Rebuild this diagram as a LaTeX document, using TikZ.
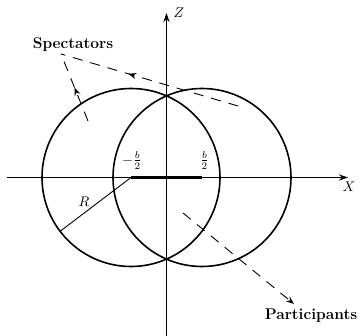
\documentclass[tikz,border=0pt]{standalone}
\usepackage{graphicx}
\usetikzlibrary{arrows.meta,decorations.markings}
\newcommand{\mlab}[1]{\scalebox{1.4}{$#1$}}
\begin{document}
\begin{tikzpicture}[x=1pt,y=-1pt,
  axis/.style={line width=1.3pt,-{Stealth[length=9pt,width=6pt]}},
  nucleus/.style={line width=1.6pt},
  flow/.style={line width=0.9pt,dash pattern=on 10pt off 8pt},
  midarrow/.style={postaction={decorate},decoration={markings,
     mark=at position #1 with {\arrow{Stealth[length=8pt,width=6pt]}}}},
  lbl/.style={font=\fontsize{15.5}{18}\selectfont\bfseries,inner sep=0pt},
  mlbl/.style={inner sep=0pt}]
\useasboundingbox (0,0) rectangle (360,336);
% centres
\coordinate (cl) at (131,177.5);
\coordinate (cr) at (202,177.5);
% nuclei
\draw[nucleus] (cl) circle[radius=89];
\draw[nucleus] (cr) circle[radius=89];
% axes
\coordinate (xs) at (7,177.5);
\coordinate (xe) at (348,177.5);
\coordinate (zs) at (166.5,336);
\coordinate (ze) at (166.5,13);
\draw[axis] (xs) -- (xe);
\draw[axis] (zs) -- (ze);
\node[mlbl] (X) at (349,187) {\mlab{X}};
\node[mlbl] (Z) at (179,12.5) {\mlab{Z}};
% impact parameter
\draw[line width=3.5pt] (cl) -- (cr);
\node[mlbl] (mb) at (132,160.5) {\mlab{-\frac{b}{2}}};
\node[mlbl] (pb) at (204.5,160.5) {\mlab{\frac{b}{2}}};
% radius
\coordinate (rend) at (60.5,231);
\draw[line width=0.9pt] (cl) -- (rend);
\node[mlbl] (R) at (84,202) {\mlab{R}};
% spectators
\node[lbl] (spec) at (73,45) {Spectators};
\coordinate (corner) at (61,54);
\coordinate (s1) at (88,121);
\coordinate (s2) at (238,106);
\draw[flow,midarrow=0.5] (s1) -- (corner);
\draw[flow,midarrow=0.62] (s2) -- (corner);
% participants
\node[lbl] (part) at (311,316) {Participants};
\coordinate (p1) at (183,213);
\coordinate (p2) at (294,304);
\draw[flow,-{Stealth[length=8pt,width=6pt]}] (p1) -- (p2);
\end{tikzpicture}
\end{document}
